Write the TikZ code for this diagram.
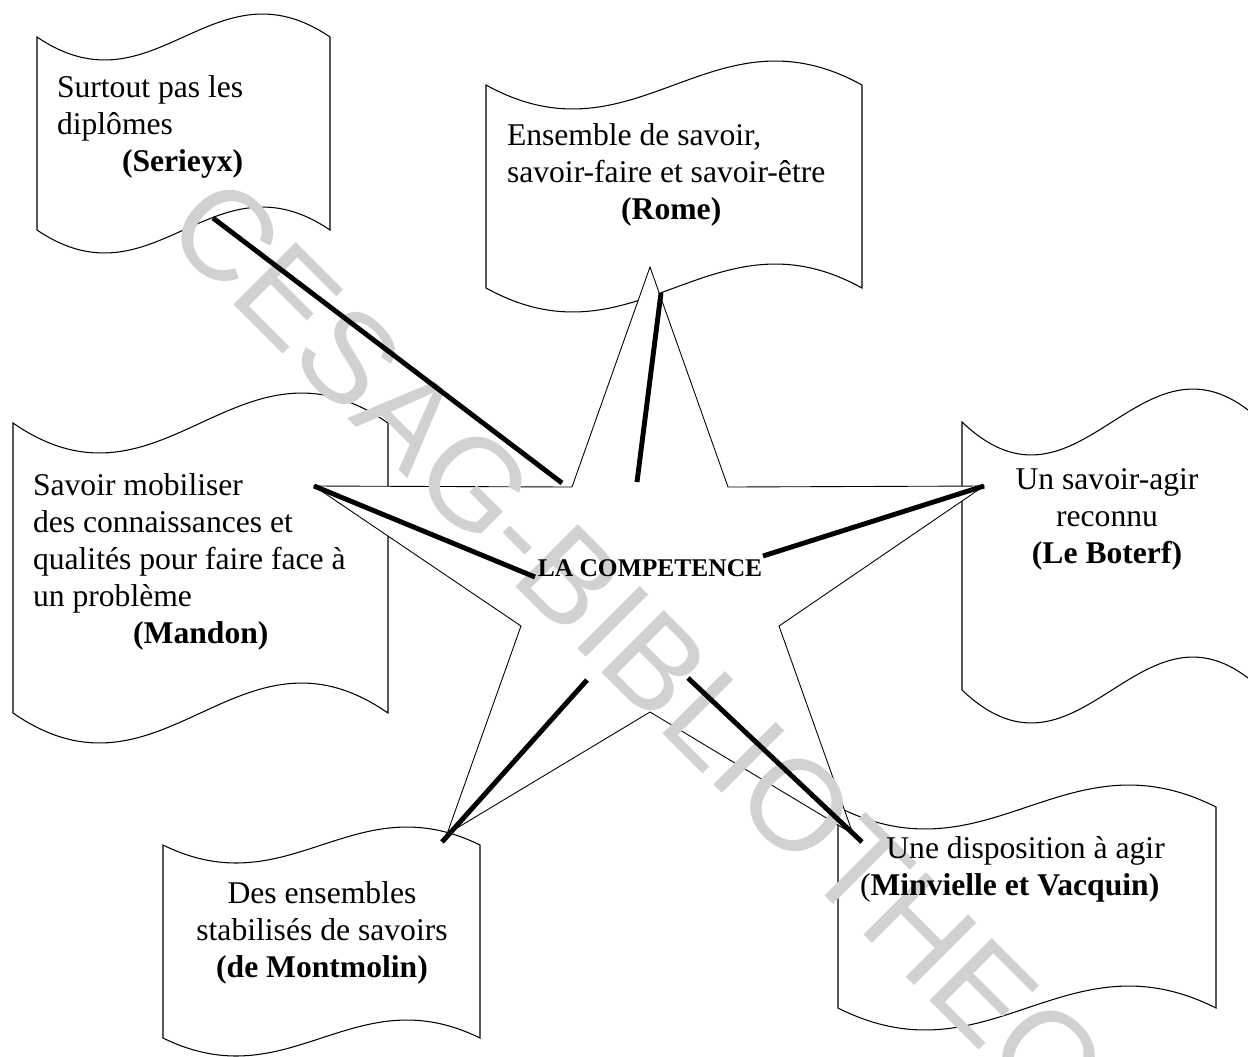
\documentclass[tikz,border=0pt]{standalone}
\usepackage{fontspec}
\setmainfont{Liberation Serif}
\newfontfamily\filigrane{Liberation Sans}
\newcommand{\epaisseur}{2.8pt}
\newcommand{\finesse}{0.6pt}
% banniere ondulee : x, y, largeur, hauteur, creux
\newcommand{\banniere}[5]{%
  \draw[line width=\finesse] (#1,#2)
    .. controls ({#1+0.4*#3},{#2+3.46*#5}) and ({#1+0.6*#3},{#2-3.46*#5}) .. ({#1+#3},#2)
    -- ({#1+#3},{#2+#4})
    .. controls ({#1+0.6*#3},{#2+#4-3.46*#5}) and ({#1+0.4*#3},{#2+#4+3.46*#5}) .. (#1,{#2+#4})
    -- cycle;}

\begin{document}
\begin{tikzpicture}[x=0.02cm,y=-0.02cm,
  texte/.style={font=\fontsize{18}{21}\selectfont, inner sep=0pt, outer sep=0pt},
  lien/.style={line width=\epaisseur}]
  \clip (0,0) rectangle (1248,1056);
  %\draw[help lines,step=100] (0,0) grid (1248,1056);
  \banniere{37}{37}{293}{193}{23}
  \banniere{486}{85}{376}{203}{24}
  \banniere{13}{423}{375}{290}{30}
  \banniere{962}{422}{300}{268}{33}
  \banniere{163}{845}{317}{193}{18}
  \banniere{838}{807}{378}{201}{22}
  % etoile
  \coordinate (pH) at (650,267);
  \coordinate (iHD) at (728,487);
  \coordinate (pD) at (984,486);
  \coordinate (iD) at (779,626);
  \coordinate (pBD) at (853,834);
  \coordinate (iB) at (650,712);
  \coordinate (pBG) at (447,834);
  \coordinate (iG) at (521,626);
  \coordinate (pG) at (314,486);
  \coordinate (iHG) at (572,487);
  \draw[fill=white, line width=0.5pt] (pH) -- (iHD) -- (pD) -- (iD) -- (pBD) -- (iB)
    -- (pBG) -- (iG) -- (pG) -- (iHG) -- cycle;
  \node[rotate=-45, anchor=base west, inner sep=0pt, text=black!18,
    font=\filigrane\fontsize{73}{73}\selectfont] (filigrane) at (161,232) {CESAG-BIBLIOTHEQUE};
  \node[font=\fontsize{14.5}{16}\selectfont\bfseries, inner sep=0pt, anchor=base] (competence)
    at (650,576) {LA COMPETENCE};
  % textes
  \node[texte, anchor=base west, align=left] (serieyx) at (57,171)
    {Surtout pas les\\diplômes\\\hspace*{37pt}\textbf{(Serieyx)}};
  \node[texte, anchor=base west, align=left] (rome) at (507,219)
    {Ensemble de savoir,\\savoir-faire et savoir-être\\\hspace*{65pt}\textbf{(Rome)}};
  \node[texte, anchor=base west, align=left] (mandon) at (33,643)
    {Savoir mobiliser\\des connaissances et\\qualités pour faire face à\\un problème\\\hspace*{57pt}\textbf{(Mandon)}};
  \node[texte, anchor=base, align=center] (boterf) at (1107,563)
    {Un savoir-agir\\reconnu\\\textbf{(Le Boterf)}};
  \node[texte, anchor=base, align=center] (montmolin) at (322,977)
    {Des ensembles\\stabilisés de savoirs\\\textbf{(de Montmolin)}};
  \node[texte, anchor=base west, align=left] (minvielle) at (860,895)
    {\hspace*{15pt}Une disposition à agir\\(\textbf{Minvielle et Vacquin)}};
  % liens
  \coordinate (lS) at (213,218);
  \coordinate (eS) at (562,483);
  \coordinate (lR) at (661,293);
  \coordinate (eR) at (637,482);
  \coordinate (eM) at (535,577);
  \coordinate (eL) at (763,556);
  \coordinate (lDM) at (442,842);
  \coordinate (eDM) at (587,680);
  \coordinate (lMV) at (862,842);
  \coordinate (eMV) at (688,678);
  \draw[lien] (lS) -- (eS);
  \draw[lien] (lR) -- (eR);
  \draw[lien] (pG) -- (eM);
  \draw[lien] (pD) -- (eL);
  \draw[lien] (lDM) -- (eDM);
  \draw[lien] (lMV) -- (eMV);
\end{tikzpicture}
\end{document}
